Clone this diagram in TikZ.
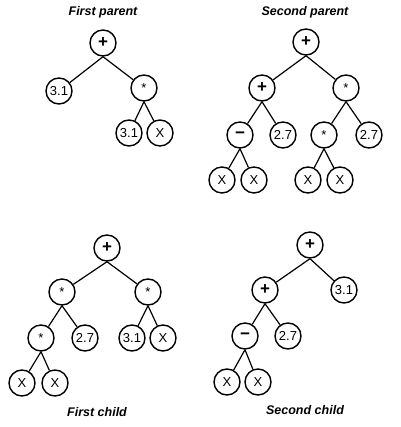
\documentclass[tikz,border=0pt]{standalone}
\usepackage{fontspec}
\setmainfont{Liberation Sans}
\usepackage{tikz}
\usetikzlibrary{positioning}

\begin{document}
\begin{tikzpicture}[x=1pt, y=-1pt,
  % ── node styles ──────────────────────────────────────────
  gene/.style={
    draw, circle, line width=1.4pt,
    minimum size=26pt, inner sep=0pt,
    font=\fontsize{13}{15}\selectfont
  },
  % ── edge style ───────────────────────────────────────────
  link/.style={line width=1.2pt},
  % ── caption ──────────────────────────────────────────────
  caption/.style={font=\fontsize{12.5}{14}\selectfont\bfseries\itshape}
]
\useasboundingbox (0,0) rectangle (400,427);

%% ── First parent ──
\node[caption] (T1)  at (103,12)  {First parent};
\node[gene] (P1r)    at (103,43)  {\fontsize{17}{17}\selectfont\textbf{+}};
\node[gene] (P1a)    at (59,91)   {3.1};
\node[gene] (P1b)    at (144,88)  {\raisebox{-0.45ex}{*}};
\node[gene] (P1ba)   at (129,133) {3.1};
\node[gene] (P1bb)   at (160,133) {X};

%% ── Second parent ──
\node[caption] (T2)  at (305,12)  {Second parent};
\node[gene] (P2r)    at (306,42)  {\fontsize{17}{17}\selectfont\textbf{+}};
\node[gene] (P2a)    at (262,88)  {\fontsize{17}{17}\selectfont\textbf{+}};
\node[gene] (P2b)    at (346,88)  {\raisebox{-0.45ex}{*}};
\node[gene] (P2aa)   at (240,135) {\fontsize{17}{17}\selectfont\textbf{−}};
\node[gene] (P2ab)   at (283,135) {2.7};
\node[gene] (P2ba)   at (324,135) {\raisebox{-0.45ex}{*}};
\node[gene] (P2bb)   at (369,135) {2.7};
\node[gene] (P2aaa)  at (222,180) {X};
\node[gene] (P2aab)  at (254,180) {X};
\node[gene] (P2baa)  at (308,180) {X};
\node[gene] (P2bab)  at (340,180) {X};

%% ── First child ──
\node[gene] (C1r)    at (107,248) {\fontsize{17}{17}\selectfont\textbf{+}};
\node[gene] (C1a)    at (62,292)  {\raisebox{-0.45ex}{*}};
\node[gene] (C1b)    at (148,292) {\raisebox{-0.45ex}{*}};
\node[gene] (C1aa)   at (41,338)  {\raisebox{-0.45ex}{*}};
\node[gene] (C1ab)   at (85,338)  {2.7};
\node[gene] (C1ba)   at (132,338) {3.1};
\node[gene] (C1bb)   at (163,338) {X};
\node[gene] (C1aaa)  at (22,383)  {X};
\node[gene] (C1aab)  at (55,383)  {X};
\node[caption] (T3)  at (97,412)  {First child};

%% ── Second child ──
\node[gene] (C2r)    at (310,245) {\fontsize{17}{17}\selectfont\textbf{+}};
\node[gene] (C2a)    at (265,290) {\fontsize{17}{17}\selectfont\textbf{+}};
\node[gene] (C2b)    at (344,290) {3.1};
\node[gene] (C2aa)   at (245,336) {\fontsize{17}{17}\selectfont\textbf{−}};
\node[gene] (C2ab)   at (288,336) {2.7};
\node[gene] (C2aaa)  at (227,382) {X};
\node[gene] (C2aab)  at (258,382) {X};
\node[caption] (T4)  at (305,410) {Second child};

%% ── Edges: first parent ──
\draw[link] (P1r.south) -- (P1a);
\draw[link] (P1r.south) -- (P1b);
\draw[link] (P1b.south) -- (P1ba);
\draw[link] (P1b.south) -- (P1bb);

%% ── Edges: second parent ──
\draw[link] (P2r.south) -- (P2a);
\draw[link] (P2r.south) -- (P2b);
\draw[link] (P2a.south) -- (P2aa);
\draw[link] (P2a.south) -- (P2ab);
\draw[link] (P2b.south) -- (P2ba);
\draw[link] (P2b.south) -- (P2bb);
\draw[link] (P2aa.south) -- (P2aaa);
\draw[link] (P2aa.south) -- (P2aab);
\draw[link] (P2ba.south) -- (P2baa);
\draw[link] (P2ba.south) -- (P2bab);

%% ── Edges: first child ──
\draw[link] (C1r.south) -- (C1a);
\draw[link] (C1r.south) -- (C1b);
\draw[link] (C1a.south) -- (C1aa);
\draw[link] (C1a.south) -- (C1ab);
\draw[link] (C1b.south) -- (C1ba);
\draw[link] (C1b.south) -- (C1bb);
\draw[link] (C1aa.south) -- (C1aaa);
\draw[link] (C1aa.south) -- (C1aab);

%% ── Edges: second child ──
\draw[link] (C2r.south) -- (C2a);
\draw[link] (C2r.south) -- (C2b);
\draw[link] (C2a.south) -- (C2aa);
\draw[link] (C2a.south) -- (C2ab);
\draw[link] (C2aa.south) -- (C2aaa);
\draw[link] (C2aa.south) -- (C2aab);

\end{tikzpicture}
\end{document}
